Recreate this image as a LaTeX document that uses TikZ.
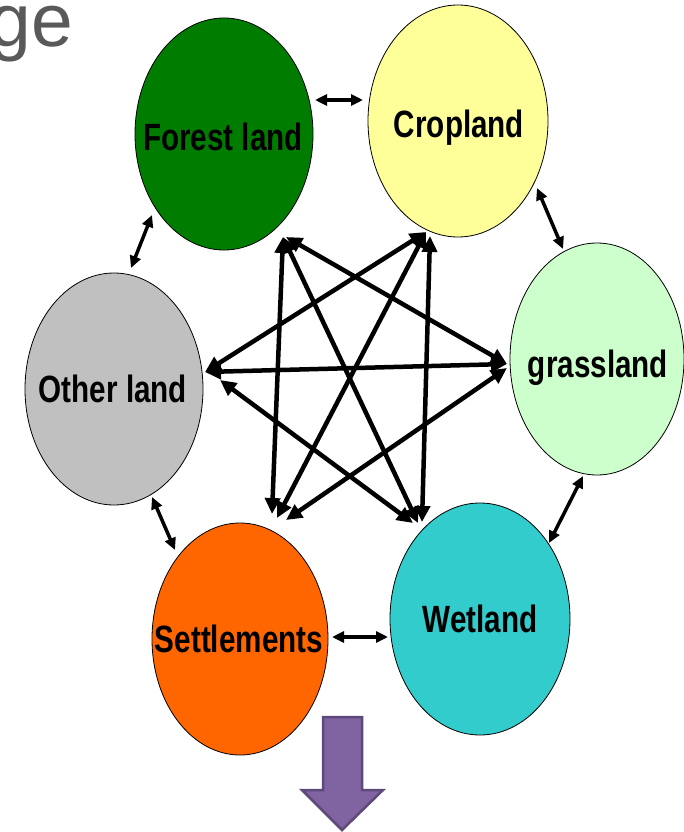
\documentclass[tikz,border=0pt]{standalone}
\usepackage{fontspec}
\setmainfont{Liberation Sans}
\newfontfamily\lblfont{Liberation Sans}[FakeStretch=0.78]
\usetikzlibrary{shapes.geometric,arrows.meta}
\definecolor{forestc}{RGB}{0,125,0}
\definecolor{cropc}{RGB}{255,255,153}
\definecolor{grassc}{RGB}{204,255,204}
\definecolor{otherc}{RGB}{192,192,192}
\definecolor{settc}{RGB}{255,102,0}
\definecolor{wetc}{RGB}{51,204,204}
\definecolor{titlec}{RGB}{89,89,89}
\definecolor{purplec}{RGB}{128,100,162}
\definecolor{purpled}{RGB}{94,73,122}
\tikzset{
  land/.style={ellipse, draw=black, line width=0.8pt, inner sep=0pt, minimum width=178pt, minimum height=232pt},
  lbl/.style={anchor=base, inner sep=0pt, font=\lblfont\bfseries\fontsize{38pt}{40pt}\selectfont, text=black},
  starlink/.style={line width=4.5pt, {Triangle[length=16pt,width=15pt]}-{Triangle[length=16pt,width=15pt]}},
  nearlink/.style={line width=3.5pt, {Triangle[length=12pt,width=11pt]}-{Triangle[length=12pt,width=11pt]}},
}
\begin{document}
\begin{tikzpicture}[x=1pt,y=-1pt]
\useasboundingbox (0,0) rectangle (684,832);
\clip (0,0) rectangle (684,832);
% title fragment
\node[anchor=base east, inner sep=0pt, text=titlec, font=\fontsize{75pt}{80pt}\selectfont] (title) at (73,47) {ge};
% land ellipses
\node[land, fill=forestc, minimum width=178pt] (F) at (224,134) {};
\node[land, fill=cropc, minimum width=180pt] (C) at (458,121) {};
\node[land, fill=grassc, minimum width=174pt] (G) at (597,359) {};
\node[land, fill=otherc, minimum width=178pt] (O) at (114,389) {};
\node[land, fill=settc, minimum width=176pt] (S) at (240,639) {};
\node[land, fill=wetc, minimum width=180pt] (W) at (480,619) {};
% labels
\node[lbl] (Ft) at (223,150) {Forest land};
\node[lbl] (Ct) at (459,137) {Cropland};
\node[lbl] (Gt) at (598,377) {grassland};
\node[lbl] (Ot) at (113,402) {Other land};
\node[lbl] (St) at (239,652) {Settlements};
\node[lbl] (Wt) at (480,632) {Wetland};
% hub coordinates
\coordinate (Fh) at (283,237);
\coordinate (Fh2) at (286,237);
\coordinate (Ch) at (426,232);
\coordinate (Ch2) at (430,236);
\coordinate (Gh) at (507,364);
\coordinate (Gh2) at (507,368);
\coordinate (Oh) at (205,372);
\coordinate (Oh2) at (220,380);
\coordinate (Sh1) at (272,514);
\coordinate (Sh2) at (277,518);
\coordinate (Sh3) at (286,520);
\coordinate (Wh1) at (413,523);
\coordinate (Wh2) at (418,523);
\coordinate (Wh3) at (422,522);
% star links
\draw[starlink] (Fh) -- (Sh1);
\draw[starlink] (Fh) -- (Wh2);
\draw[starlink] (Fh2) -- (Gh);
\draw[starlink] (Ch) -- (Oh);
\draw[starlink] (Ch) -- (Sh2);
\draw[starlink] (Ch2) -- (Wh3);
\draw[starlink] (Gh) -- (Oh);
\draw[starlink] (Gh2) -- (Sh3);
\draw[starlink] (Oh2) -- (Wh1);
% neighbour links
\coordinate (FCa) at (315,100); \coordinate (FCb) at (363,100);
\coordinate (CGa) at (537,188); \coordinate (CGb) at (563,249);
\coordinate (GWa) at (583,476); \coordinate (GWb) at (549,543);
\coordinate (WSa) at (388,637); \coordinate (WSb) at (332,637);
\coordinate (SOa) at (175,550); \coordinate (SOb) at (152,497);
\coordinate (OFa) at (131,268); \coordinate (OFb) at (152,215);
\draw[nearlink] (FCa) -- (FCb);
\draw[nearlink] (CGa) -- (CGb);
\draw[nearlink] (GWa) -- (GWb);
\draw[nearlink] (WSa) -- (WSb);
\draw[nearlink] (SOa) -- (SOb);
\draw[nearlink] (OFa) -- (OFb);
% purple down arrow
\draw[draw=purpled, fill=purplec, line width=2.5pt, line join=miter]
  (323,717) -- (362,717) -- (362,790) -- (383,790) -- (342,830) -- (302,790) -- (323,790) -- cycle;
\end{tikzpicture}
\end{document}
